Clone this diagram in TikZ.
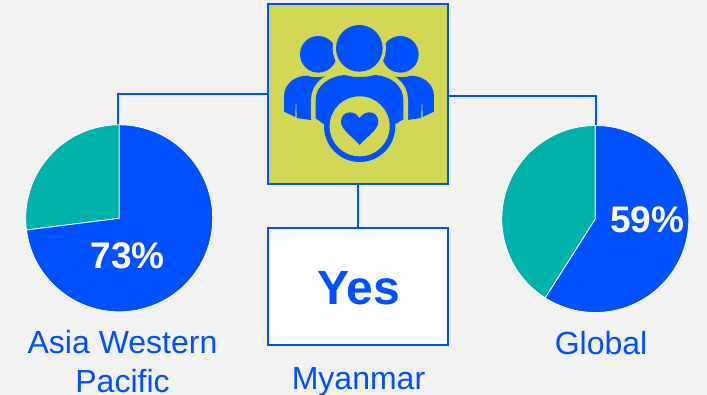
\documentclass[tikz,border=0pt]{standalone}
\usepackage{fontspec}
\setmainfont{Liberation Sans}
\definecolor{bg}{HTML}{F2F2F2}
\definecolor{mainblue}{HTML}{0050FF}
\definecolor{teal2}{HTML}{00B2A9}
\definecolor{hubyellow}{HTML}{D2D755}
\tikzset{
  hubbox/.style={draw=mainblue,line width=2.5pt,fill=hubyellow,minimum width=180pt,minimum height=180pt,inner sep=0pt},
  yesbox/.style={draw=mainblue,line width=2.5pt,fill=white,minimum width=180pt,minimum height=117pt,inner sep=0pt,text=mainblue,text height=37pt,text depth=0pt,font=\fontsize{48}{50}\selectfont\bfseries},
  piebase/.style={circle,minimum size=187pt,inner sep=0pt},
  link/.style={draw=mainblue,line width=1.6pt},
  slice/.style={draw=white,line width=0.8pt,line join=round},
  pct/.style={text=white,anchor=base,inner sep=0pt,font=\fontsize{37}{40}\selectfont\bfseries},
  caption/.style={text=mainblue,inner sep=0pt,align=center,font=\fontsize{32}{38.4}\selectfont},
}
\newcommand{\sidebody}{(72,335) -- (72,290) .. controls (72,250) and (105,228) .. (140,227) .. controls (160,233) and (175,233) .. (200,228) -- (200,360) -- (152,360) -- (110,354) -- (109,312) -- (107,312) -- (106,351) -- cycle}
\newcommand{\centerbody}{(167,355) -- (167,300) .. controls (167,255) and (210,228) .. (255,225) .. controls (280,233) and (316,233) .. (345,225) .. controls (390,228) and (430,255) .. (430,300) -- (430,358) -- (405,373) -- (192,373) -- cycle}
\begin{document}
\begin{tikzpicture}[x=1pt,y=-1pt]
\useasboundingbox (0,0) rectangle (707,395);
\fill[bg] (0,0) rectangle (707,395);

\node[hubbox] (hub) at (358.2,94.2) {};
\node[yesbox] (yes) at (358.2,286.5) {\hspace*{1pt}Yes};
\node[piebase] (pieL) at (119.2,218.3) {};
\node[piebase] (pieR) at (595.3,219) {};

\draw[link] (hub.west) -| ([xshift=-1.5pt]pieL.north);
\draw[link] ([yshift=-1.8pt]hub.east) -| ([xshift=0.7pt]pieR.north);
\draw[link] (hub.south) -- (yes.north);

% the y axis points down here, so polar angles are written negated
\fill[slice,fill=teal2] (pieL.center) -- ++(-187.2:93.5) arc[start angle=-187.2,end angle=-90,radius=93.5] -- cycle;
\fill[slice,fill=mainblue] (pieL.center) -- ++(-90:93.5) arc[start angle=-90,end angle=172.8,radius=93.5] -- cycle;
\fill[slice,fill=teal2] (pieR.center) -- ++(-237.6:93.5) arc[start angle=-237.6,end angle=-90,radius=93.5] -- cycle;
\fill[slice,fill=mainblue] (pieR.center) -- ++(-90:93.5) arc[start angle=-90,end angle=122.4,radius=93.5] -- cycle;

\node[pct] (pctL) at (127.5,269) {73\%};
\node[pct] (pctR) at (647.3,233) {59\%};

\node[caption] (capL) at (122.5,361.5) {Asia Western\\Pacific};
\node[caption,anchor=base] (capM) at (358.5,389) {Myanmar};
\node[caption,anchor=base] (capR) at (601,355) {Global};

\begin{scope}[shift={(260,0)},x=0.3333pt,y=-0.3333pt]
  \fill[mainblue] (175,163) circle[radius=55];
  \fill[mainblue] (421,163) circle[radius=55];
  \fill[mainblue] \sidebody;
  \begin{scope}[shift={(594,0)},xscale=-1]
    \fill[mainblue] \sidebody;
  \end{scope}
  \fill[hubyellow] (298,145) circle[radius=80];
  \draw[hubyellow,line width=9.4pt,line join=round] \centerbody;
  \fill[mainblue] (298,145) circle[radius=70];
  \fill[mainblue] \centerbody;
  \fill[mainblue] (299,379) circle[radius=107];
  \fill[hubyellow] (299,379) circle[radius=90];
  \fill[mainblue] (299,435) .. controls (280,412) and (243,390) .. (243,365) .. controls (243,348) and (255,337) .. (270,337) .. controls (282,337) and (293,344) .. (299,355) .. controls (305,344) and (316,337) .. (328,337) .. controls (343,337) and (355,348) .. (355,365) .. controls (355,390) and (318,412) .. (299,435) -- cycle;
\end{scope}
\end{tikzpicture}
\end{document}
